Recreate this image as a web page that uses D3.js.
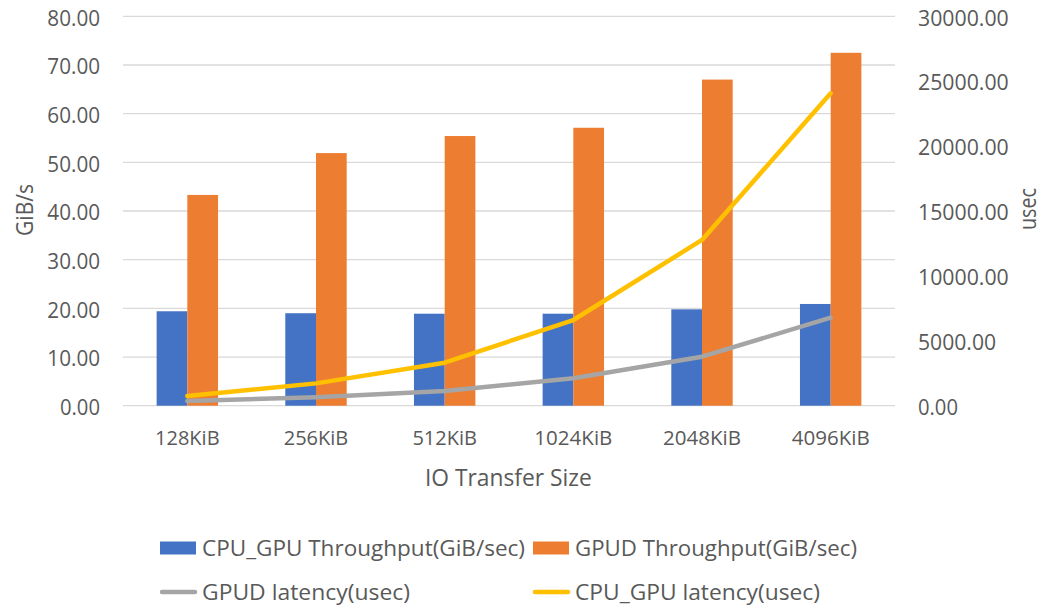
<!DOCTYPE html>
<html>
<head>
<meta charset="utf-8">
<script src="https://cdn.jsdelivr.net/npm/d3@7"></script>
<style>
  html, body { margin: 0; padding: 0; background: #fff; }
  svg { display: block; font-family: "Open Sans", "Noto Sans", sans-serif; }
</style>
</head>
<body>
<svg id="chart" width="1048" height="609"></svg>
<script>
// Transfer sizes along the x axis
const categories = ["128KiB", "256KiB", "512KiB", "1024KiB", "2048KiB", "4096KiB"];
// Throughput (GiB/s), left axis
const cpuGpuThroughput = [19.4, 19.0, 18.9, 18.9, 19.8, 20.9];
const gpudThroughput = [43.3, 51.9, 55.4, 57.1, 67.0, 72.5];
// Latency (usec), right axis
const gpudLatency = [362, 650, 1130, 2110, 3775, 6780];
const cpuGpuLatency = [750, 1720, 3310, 6600, 12770, 24070];
// Axis ticks
const leftTicks = [0, 10, 20, 30, 40, 50, 60, 70, 80];
const rightTicks = [0, 5000, 10000, 15000, 20000, 25000, 30000];

const colors = { cpuBar: "#4472C4", gpudBar: "#ED7D31", gpudLine: "#A5A5A5", cpuLine: "#FFC000" };
const textColor = "#595959";

const svg = d3.select("#chart");
const plot = { left: 123, right: 895, top: 16.3, bottom: 405.7 };

const x = d3.scaleBand().domain(categories).range([plot.left, plot.right]);
const yL = d3.scaleLinear().domain([0, 80]).range([plot.bottom, plot.top]);
const yR = d3.scaleLinear().domain([0, 30000]).range([plot.bottom, plot.top]);
const barW = 30.7;
const fmt = d3.format(".2f");

// width of a number label: narrow condensed figures
const numWidth = s => 40 + 12.7 * (s.split(".")[0].length - 1);

// Gridlines
svg.append("g").selectAll("line").data(leftTicks).join("line")
  .attr("x1", plot.left).attr("x2", plot.right)
  .attr("y1", d => yL(d)).attr("y2", d => yL(d))
  .attr("stroke", "#d9d9d9").attr("stroke-width", 1.3);

// Left axis labels
const leftAxis = d3.axisLeft(yL).tickValues(leftTicks).tickFormat(fmt).tickSize(0).tickPadding(0);
const gl = svg.append("g").attr("transform", `translate(100,0)`).call(leftAxis);
gl.select(".domain").remove();
gl.selectAll("text").attr("fill", textColor).attr("font-size", 21)
  .attr("font-family", "'Open Sans', sans-serif").attr("dy", 8.7).attr("y", 0)
  .attr("textLength", d => numWidth(fmt(d))).attr("lengthAdjust", "spacingAndGlyphs");

// Right axis labels
const rightAxis = d3.axisRight(yR).tickValues(rightTicks).tickFormat(fmt).tickSize(0).tickPadding(0);
const gr = svg.append("g").attr("transform", `translate(918,0)`).call(rightAxis);
gr.select(".domain").remove();
gr.selectAll("text").attr("fill", textColor).attr("font-size", 21)
  .attr("font-family", "'Open Sans', sans-serif").attr("dy", 8.7).attr("y", 0)
  .attr("textLength", d => numWidth(fmt(d))).attr("lengthAdjust", "spacingAndGlyphs");

// Bars
const groups = svg.append("g").selectAll("g").data(categories).join("g");
groups.append("rect")
  .attr("x", d => x(d) + x.bandwidth() / 2 - barW)
  .attr("y", (d, i) => yL(cpuGpuThroughput[i]))
  .attr("width", barW)
  .attr("height", (d, i) => yL(0) - yL(cpuGpuThroughput[i]))
  .attr("fill", colors.cpuBar);
groups.append("rect")
  .attr("x", d => x(d) + x.bandwidth() / 2)
  .attr("y", (d, i) => yL(gpudThroughput[i]))
  .attr("width", barW)
  .attr("height", (d, i) => yL(0) - yL(gpudThroughput[i]))
  .attr("fill", colors.gpudBar);

// Latency lines
const cx = d => x(d) + x.bandwidth() / 2;
const lineFor = vals => d3.line().x((d, i) => cx(categories[i])).y(d => yR(d))(vals);
svg.append("path").attr("d", lineFor(gpudLatency))
  .attr("fill", "none").attr("stroke", colors.gpudLine).attr("stroke-width", 4.5)
  .attr("stroke-linejoin", "round").attr("stroke-linecap", "round");
svg.append("path").attr("d", lineFor(cpuGpuLatency))
  .attr("fill", "none").attr("stroke", colors.cpuLine).attr("stroke-width", 4.5)
  .attr("stroke-linejoin", "round").attr("stroke-linecap", "round");

// Category labels
const xAxis = d3.axisBottom(x).tickSize(0).tickPadding(0);
const gx = svg.append("g").attr("transform", `translate(0,445)`).call(xAxis);
gx.select(".domain").remove();
gx.selectAll("text").attr("fill", textColor).attr("font-size", 19.5)
  .attr("font-family", "'Open Sans', sans-serif").attr("dy", 0).attr("y", 0)
  .attr("textLength", d => d.length > 6 ? 78 : 64.5).attr("lengthAdjust", "spacingAndGlyphs");

// Axis titles
svg.append("text").attr("x", 425).attr("y", 486)
  .attr("fill", textColor).attr("font-size", 24)
  .attr("textLength", 166.7).attr("lengthAdjust", "spacingAndGlyphs").text("IO Transfer Size");
svg.append("text").attr("transform", "translate(33,236) rotate(-90)")
  .attr("fill", textColor).attr("font-size", 24)
  .attr("textLength", 52).attr("lengthAdjust", "spacingAndGlyphs").text("GiB/s");
svg.append("text").attr("transform", "translate(1036,230) rotate(-90)")
  .attr("fill", textColor).attr("font-size", 24)
  .attr("textLength", 42).attr("lengthAdjust", "spacingAndGlyphs").text("usec");

// Legend
const legendItems = [
  { label: "CPU_GPU Throughput(GiB/sec)", color: colors.cpuBar, type: "rect", x: 160, y: 548, w: 323 },
  { label: "GPUD Throughput(GiB/sec)", color: colors.gpudBar, type: "rect", x: 533, y: 548, w: 282 },
  { label: "GPUD latency(usec)", color: colors.gpudLine, type: "line", x: 160, y: 592, w: 208 },
  { label: "CPU_GPU latency(usec)", color: colors.cpuLine, type: "line", x: 533, y: 592, w: 245 }
];
const lg = svg.append("g").selectAll("g").data(legendItems).join("g")
  .attr("transform", d => `translate(${d.x},${d.y})`);
lg.filter(d => d.type === "rect").append("rect")
  .attr("x", 0).attr("y", -6.5).attr("width", 36).attr("height", 13).attr("fill", d => d.color);
lg.filter(d => d.type === "line").append("line")
  .attr("x1", 2).attr("x2", 35).attr("y1", 0).attr("y2", 0)
  .attr("stroke", d => d.color).attr("stroke-width", 4.5).attr("stroke-linecap", "round");
lg.append("text").attr("x", 42).attr("y", 7.5)
  .attr("fill", textColor).attr("font-size", 21)
  .attr("textLength", d => d.w).attr("lengthAdjust", "spacingAndGlyphs")
  .text(d => d.label);
</script>
</body>
</html>
